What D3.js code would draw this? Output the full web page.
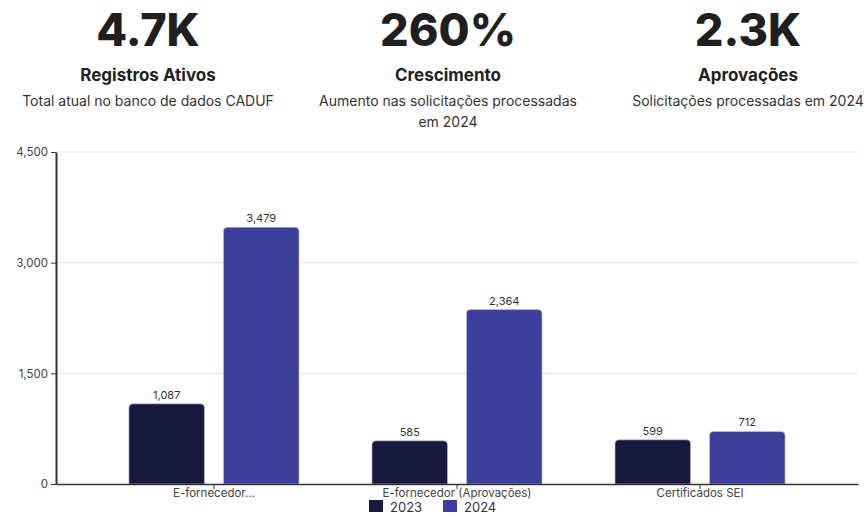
<!DOCTYPE html>
<html>
<head>
<meta charset="utf-8">
<script src="https://cdn.jsdelivr.net/npm/d3@7"></script>
<style>
  body { margin: 0; background: #fff; }
  svg { display: block; font-family: Inter, "Noto Sans", sans-serif; }
</style>
</head>
<body>
<svg id="chart" width="868" height="515"></svg>
<script>
// KPI cards
var kpiValues = ["4.7K", "260%", "2.3K"];
var kpiTitles = ["Registros Ativos", "Crescimento", "Aprovações"];
var kpiTexts = [
  ["Total atual no banco de dados CADUF"],
  ["Aumento nas solicitações processadas", "em 2024"],
  ["Solicitações processadas em 2024"]
];

// bar chart data
var categories = ["E-fornecedor...", "E-fornecedor (Aprovações)", "Certificados SEI"];
var years = ["2023", "2024"];
var values2023 = [1087, 585, 599];
var values2024 = [3479, 2364, 712];
var yTicks = [0, 1500, 3000, 4500];

var colors = { "2023": "#171a3e", "2024": "#3b3f9b" };

var svg = d3.select("#chart");

// top cards
var kpiX = [148, 448, 748];
var cards = svg.selectAll("g.kpi")
  .data(kpiValues)
  .enter().append("g")
  .attr("class", "kpi")
  .attr("transform", function(d, i) { return "translate(" + kpiX[i] + ",0)"; });

cards.append("text")
  .attr("y", 46)
  .attr("text-anchor", "middle")
  .attr("font-size", 45)
  .attr("font-weight", 800)
  .attr("fill", "#1f1f1f")
  .text(function(d) { return d; });

cards.append("text")
  .attr("y", 81)
  .attr("text-anchor", "middle")
  .attr("font-size", 17)
  .attr("font-weight", 700)
  .attr("fill", "#1f1f1f")
  .text(function(d, i) { return kpiTitles[i]; });

cards.each(function(d, i) {
  d3.select(this).selectAll("text.desc")
    .data(kpiTexts[i])
    .enter().append("text")
    .attr("class", "desc")
    .attr("y", function(t, j) { return 106 + j * 21; })
    .attr("text-anchor", "middle")
    .attr("font-size", 14)
    .attr("fill", "#333")
    .text(function(t) { return t; });
});

// chart area
var margin = { left: 56, right: 10, top: 152, bottom: 31 };
var width = 868 - margin.left - margin.right;
var height = 515 - margin.top - margin.bottom;

var g = svg.append("g")
  .attr("transform", "translate(" + margin.left + "," + margin.top + ")");

var x0 = d3.scaleBand()
  .domain(categories)
  .range([0, width])
  .paddingInner(0.3)
  .paddingOuter(0.3);

var x1 = d3.scaleBand()
  .domain(years)
  .range([0, x0.bandwidth()])
  .paddingInner(0.2);

var y = d3.scaleLinear()
  .domain([0, 4500])
  .range([height, 0]);

// gridlines
g.selectAll("line.grid")
  .data(yTicks.filter(function(t) { return t > 0; }))
  .enter().append("line")
  .attr("class", "grid")
  .attr("x1", 0)
  .attr("x2", width)
  .attr("y1", function(d) { return y(d); })
  .attr("y2", function(d) { return y(d); })
  .attr("stroke", "#e3e3e3")
  .attr("stroke-width", 1);

var rows = categories.map(function(c, i) {
  return { cat: c, vals: [{ year: "2023", v: values2023[i] }, { year: "2024", v: values2024[i] }] };
});

var groups = g.selectAll("g.cat")
  .data(rows)
  .enter().append("g")
  .attr("class", "cat")
  .attr("transform", function(d) { return "translate(" + x0(d.cat) + ",0)"; });

function barPath(x, yTop, w, h, r) {
  return "M" + x + "," + (yTop + h) +
    "V" + (yTop + r) +
    "Q" + x + "," + yTop + " " + (x + r) + "," + yTop +
    "H" + (x + w - r) +
    "Q" + (x + w) + "," + yTop + " " + (x + w) + "," + (yTop + r) +
    "V" + (yTop + h) + "Z";
}

groups.selectAll("path")
  .data(function(d) { return d.vals; })
  .enter().append("path")
  .attr("d", function(d) {
    return barPath(x1(d.year), y(d.v), x1.bandwidth(), height - y(d.v), 4);
  })
  .attr("fill", function(d) { return colors[d.year]; })
  .attr("stroke", "#c9cbe8")
  .attr("stroke-width", 0.6);

groups.selectAll("text.val")
  .data(function(d) { return d.vals; })
  .enter().append("text")
  .attr("class", "val")
  .attr("x", function(d) { return x1(d.year) + x1.bandwidth() / 2; })
  .attr("y", function(d) { return y(d.v) - 5; })
  .attr("text-anchor", "middle")
  .attr("font-size", 11)
  .attr("fill", "#333")
  .text(function(d) { return d3.format(",")(d.v); });

// axes
var yAxis = g.append("g")
  .call(d3.axisLeft(y).tickValues(yTicks).tickFormat(d3.format(",")).tickSize(5).tickSizeOuter(0));
yAxis.select(".domain").attr("stroke", "#333").attr("stroke-width", 2);
yAxis.selectAll(".tick line").attr("stroke", "#333");
yAxis.selectAll(".tick text").attr("font-size", 11.5).attr("fill", "#444").attr("font-family", "Inter, sans-serif");

var xAxis = g.append("g")
  .attr("transform", "translate(0," + height + ")")
  .call(d3.axisBottom(x0).tickSize(5).tickSizeOuter(0));
xAxis.select(".domain").attr("stroke", "#333").attr("stroke-width", 1.5);
xAxis.selectAll(".tick line").attr("stroke", "#333");
xAxis.selectAll(".tick text")
  .attr("font-size", 11.5)
  .attr("fill", "#444")
  .attr("font-family", "Inter, sans-serif")
  .attr("y", 13)
  .attr("dy", 0);

// legend
var legendX = [369, 443];
var legend = svg.selectAll("g.legend")
  .data(years)
  .enter().append("g")
  .attr("class", "legend")
  .attr("transform", function(d, i) { return "translate(" + legendX[i] + ",500)"; });

legend.append("rect")
  .attr("width", 14)
  .attr("height", 12)
  .attr("fill", function(d) { return colors[d]; });

legend.append("text")
  .attr("x", 21)
  .attr("y", 11.5)
  .attr("font-size", 13)
  .attr("fill", "#333")
  .text(function(d) { return d; });
</script>
</body>
</html>
